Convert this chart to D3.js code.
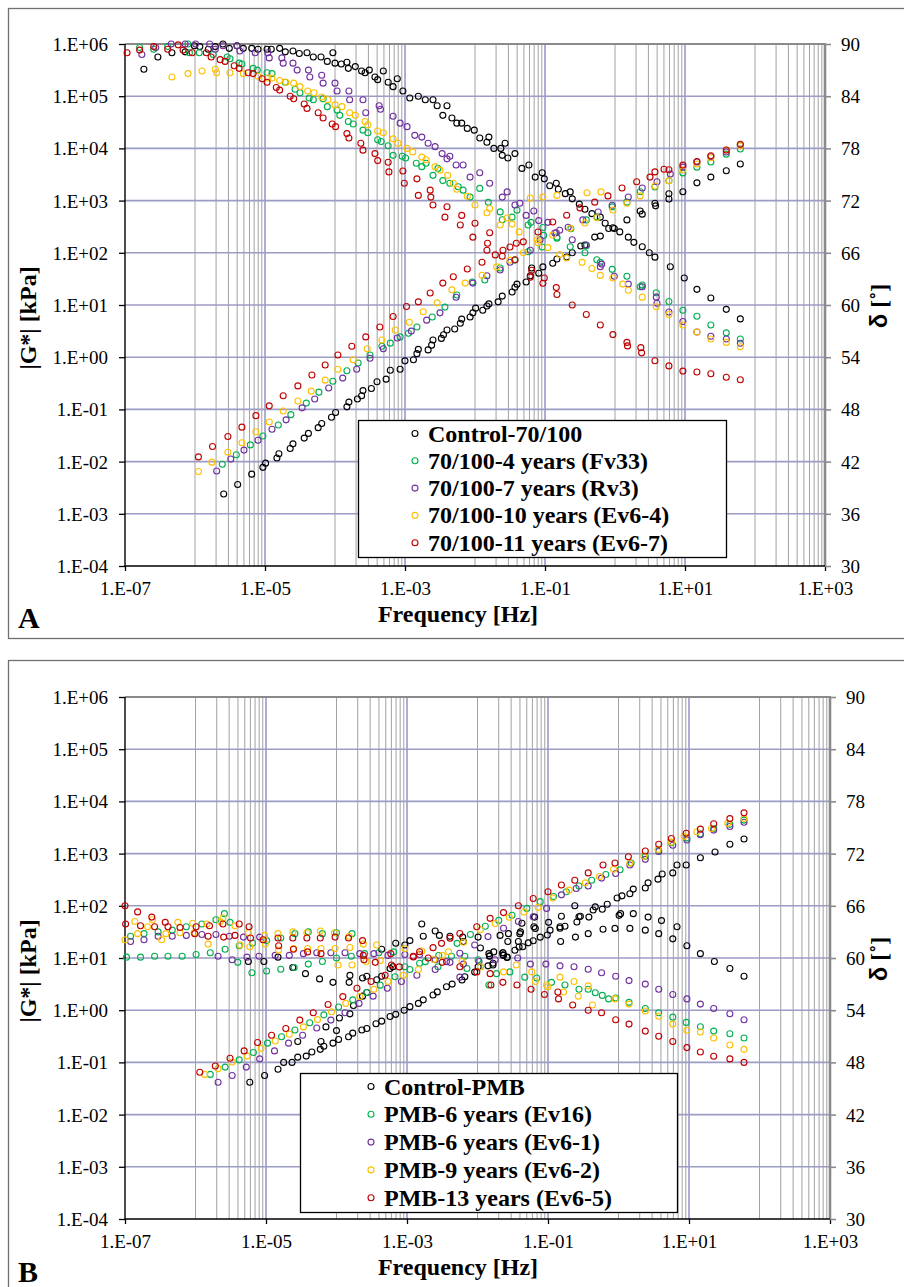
<!DOCTYPE html>
<html><head><meta charset="utf-8">
<script src="https://cdn.jsdelivr.net/npm/d3@7"></script>
<style>body{margin:0;background:#fff}svg{display:block}</style>
</head><body>
<svg id="c" width="904" height="1287"></svg>
<script>
// ---------------- tick labels ----------------
const xTickValues = [1e-7, 1e-5, 1e-3, 1e-1, 1e1, 1e3];
const xTickLabels = ["1.E-07","1.E-05","1.E-03","1.E-01","1.E+01","1.E+03"];
const yTickValues = [1e-4,1e-3,1e-2,1e-1,1,1e1,1e2,1e3,1e4,1e5,1e6];
const yTickLabels = ["1.E-04","1.E-03","1.E-02","1.E-01","1.E+00","1.E+01","1.E+02","1.E+03","1.E+04","1.E+05","1.E+06"];
const dTickValues = [30,36,42,48,54,60,66,72,78,84,90];
const dTickLabels = ["30","36","42","48","54","60","66","72","78","84","90"];

const namesA = ["Control-70/100","70/100-4 years (Fv33)","70/100-7 years (Rv3)","70/100-10 years (Ev6-4)","70/100-11 years (Ev6-7)"];
const namesB = ["Control-PMB","PMB-6 years (Ev16)","PMB-6 years (Ev6-1)","PMB-9 years (Ev6-2)","PMB-13 years (Ev6-5)"];
const colors = ["#000000","#00b050","#7030a0","#ffc000","#c00000"];

// ---------------- panel A data: [frequency Hz, value] ----------------
const A_ctrl_G = [[2.57e-6,2.4e-3],[4.07e-6,3.63e-3],[6.46e-6,5.75e-3],[9.33e-6,7.76e-3],[1.02e-5,9.33e-3],[1.48e-5,1.17e-2],[1.58e-5,1.41e-2],[2.29e-5,1.78e-2],[2.51e-5,2.19e-2],[3.63e-5,2.82e-2],[4.17e-5,3.47e-2],[5.75e-5,4.47e-2],[6.46e-5,5.37e-2],[8.91e-5,7.08e-2],[1.02e-4,8.71e-2],[1.48e-4,0.112],[1.58e-4,0.138],[2.09e-4,0.158],[2.4e-4,0.182],[2.51e-4,0.229],[3.31e-4,0.251],[3.98e-4,0.339],[5.37e-4,0.38],[6.17e-4,0.562],[8.51e-4,0.589],[1e-3,0.851],[1.32e-3,0.891],[1.48e-3,1.17],[1.55e-3,1.41],[2.14e-3,1.38],[2.4e-3,1.7],[2.51e-3,2.14],[3.31e-3,2.29],[3.55e-3,2.69],[3.98e-3,3.31],[5.13e-3,3.47],[6.17e-3,4.47],[6.46e-3,5.37],[8.51e-3,5.89],[9.33e-3,7.08],[1.02e-2,8.71],[1.29e-2,7.94],[1.48e-2,9.55],[1.58e-2,10.5],[2.14e-2,11.5],[2.45e-2,14.8],[3.39e-2,17.8],[3.72e-2,21.9],[3.98e-2,25.1],[5.37e-2,27.5],[6.17e-2,36.3],[6.46e-2,51.3],[8.13e-2,40.7],[9.33e-2,53.7],[0.129,63.1],[0.148,75.9],[0.204,83.2],[0.245,100],[0.324,135],[0.372,141],[0.513,200],[0.617,209],[0.933,302],[1.48,427],[2.29,631],[2.45,550],[3.72,891],[3.8,794],[5.89,1350],[5.89,1070],[9.33,1480],[14.8,2190],[23.4,2820],[38.9,3720],[61.7,5010]];
const A_ctrl_d = [[1.86e-7,87.1],[2.95e-7,88.5],[4.68e-7,89.0],[7.24e-7,89.1],[9.8e-7,89.8],[1.17e-6,89.7],[1.55e-6,89.4],[1.95e-6,89.7],[2.51e-6,90],[3.09e-6,89.5],[3.98e-6,89.8],[4.9e-6,89.5],[6.46e-6,89.5],[7.94e-6,89.4],[1.07e-5,89.4],[1.23e-5,89.4],[1.62e-5,89.5],[1.95e-5,89.1],[2.51e-5,89.2],[3.09e-5,88.9],[3.98e-5,89.0],[4.9e-5,88.5],[6.31e-5,88.5],[7.76e-5,88.0],[9.33e-5,89.0],[1e-4,87.8],[1.23e-4,87.7],[1.48e-4,87.9],[1.55e-4,87.2],[1.95e-4,87.4],[2.4e-4,86.9],[2.69e-4,86.7],[3.09e-4,87.0],[3.72e-4,86.2],[4.07e-4,85.9],[4.9e-4,86.9],[5.75e-4,85.6],[6.76e-4,85.1],[7.76e-4,86.0],[9.33e-4,84.6],[1.17e-3,83.8],[1.55e-3,84.0],[1.95e-3,83.6],[2.51e-3,83.6],[2.88e-3,82.9],[3.47e-3,81.8],[3.98e-3,82.9],[4.68e-3,81.5],[5.5e-3,80.9],[6.46e-3,80.9],[7.76e-3,80.3],[9.77e-3,80.1],[1.17e-2,79.2],[1.48e-2,78.7],[1.58e-2,79.3],[1.86e-2,78.0],[2.34e-2,78.0],[2.45e-2,77.2],[2.69e-2,78.6],[2.95e-2,76.9],[3.72e-2,77.4],[4.68e-2,75.7],[5.89e-2,76.1],[7.24e-2,74.7],[9.12e-2,75.2],[9.77e-2,74.5],[0.117,73.7],[0.145,74.0],[0.155,73.3],[0.195,72.8],[0.229,73.0],[0.245,72.2],[0.309,71.6],[0.372,71.0],[0.468,70.5],[0.617,70.1],[0.724,69.4],[0.813,68.8],[0.977,68.8],[1.17,68.4],[1.55,67.8],[1.86,67.2],[2.45,66.7],[3.09,66.0],[3.72,65.5],[6.17,64.4],[9.77,63.1],[14.8,61.8],[23.4,60.8],[38.9,59.5],[61.7,58.4]];

const A_g4_G = [[2.45e-6,8.91e-3],[3.89e-6,1.35e-2],[6.17e-6,2.09e-2],[9.33e-6,3.09e-2],[1.55e-5,5.01e-2],[2.34e-5,7.94e-2],[3.89e-5,0.132],[5.89e-5,0.214],[9.33e-5,0.347],[1.48e-4,0.55],[2.14e-4,0.776],[3.16e-4,1.1],[4.68e-4,1.62],[6.17e-4,1.86],[8.51e-4,2.45],[1.12e-3,2.88],[1.48e-3,3.8],[2.45e-3,5.89],[3.72e-3,9.12],[5.5e-3,15.5],[9.12e-3,27.5],[1.38e-2,30.2],[2.29e-2,51.3],[3.72e-2,72.4],[5.75e-2,105],[9.12e-2,129],[0.148,191],[0.234,288],[0.389,427],[0.55,490],[0.912,759],[1.48,933],[2.29,1480],[3.72,1820],[5.89,2400],[9.33,3390],[14.8,4370],[23.4,5500],[38.9,7760],[61.7,9770]];
const A_g4_d = [[1.62e-7,89.6],[2.57e-7,89.4],[4.07e-7,89.7],[7.94e-7,90],[8.32e-7,89.0],[1.15e-6,89.0],[1.82e-6,88.8],[2.88e-6,88.5],[3.16e-6,88.3],[4.27e-6,87.8],[4.68e-6,87.7],[6.76e-6,87.2],[7.76e-6,87.0],[1.07e-5,86.7],[1.26e-5,86.6],[1.95e-5,85.6],[2.69e-5,84.8],[3.16e-5,84.4],[4.27e-5,83.8],[4.9e-5,83.6],[6.76e-5,83.7],[7.76e-5,82.8],[1.07e-4,82.4],[1.17e-4,81.8],[1.55e-4,81.1],[1.82e-4,80.8],[2.51e-4,80.1],[2.95e-4,79.8],[4.07e-4,79.0],[4.57e-4,78.8],[5.75e-4,78.3],[6.76e-4,77.2],[9.12e-4,77.1],[1.02e-3,76.9],[1.45e-3,76.3],[1.74e-3,75.9],[2e-3,76.3],[2.51e-3,74.9],[2.95e-3,75.7],[3.47e-3,74.3],[4.37e-3,74.0],[5.75e-3,73.6],[6.76e-3,73.2],[8.51e-3,72.4],[1.17e-2,73.4],[1.55e-2,71.8],[2.29e-2,70.7],[2.45e-2,69.8],[3.39e-2,70.1],[3.98e-2,70.9],[5.75e-2,69.2],[6.31e-2,69.5],[9.33e-2,68.9],[9.55e-2,68.0],[0.148,67.8],[0.229,66.7],[0.372,66.0],[0.389,66.8],[0.55,65.2],[0.617,64.9],[0.912,64.1],[1.48,63.3],[2.29,62.1],[2.45,62.3],[3.89,61.4],[5.89,60.4],[9.33,59.4],[14.8,58.7],[23.4,57.7],[38.9,56.8],[61.7,56.1]];

const A_p7_G = [[2.04e-6,6.61e-3],[3.24e-6,1.12e-2],[5.01e-6,1.66e-2],[7.94e-6,2.57e-2],[1.26e-5,4.17e-2],[2e-5,6.31e-2],[3.39e-5,0.107],[5.13e-5,0.158],[8.13e-5,0.257],[1.29e-4,0.398],[2.04e-4,0.589],[3.16e-4,0.955],[4.9e-4,1.45],[7.76e-4,2.34],[1.23e-3,3.16],[2.04e-3,5.13],[3.16e-3,7.08],[5.37e-3,14.1],[9.33e-3,26.3],[1.48e-2,36.3],[2.29e-2,46.8],[3.16e-2,66.1],[6.17e-2,112],[8.51e-2,178],[0.138,240],[0.214,309],[0.347,427],[0.575,603],[0.912,813],[1.55,1170],[2.45,1740],[3.98,2290],[6.17,3240],[9.33,4370],[14.8,5500],[23.4,6920],[38.9,8510],[61.7,11500]];
const A_p7_d = [[1.74e-7,88.8],[2.75e-7,89.6],[4.57e-7,90],[7.24e-7,90],[1.02e-6,90],[1.62e-6,90],[1.95e-6,89.4],[2.51e-6,89.8],[3.98e-6,89.8],[4.37e-6,89.2],[7.24e-6,89.0],[1.1e-5,89.0],[1.15e-5,88.4],[1.74e-5,88.4],[1.82e-5,87.8],[2.51e-5,87.8],[2.88e-5,87.0],[4.17e-5,87.0],[4.37e-5,86.2],[6.46e-5,86.4],[6.76e-5,85.5],[1e-4,85.5],[1.07e-4,84.6],[1.58e-4,84.6],[1.62e-4,83.6],[2.51e-4,83.6],[2.75e-4,82.1],[4.27e-4,82.9],[4.47e-4,82.5],[6.76e-4,81.7],[8.51e-4,80.9],[1.07e-3,80.5],[1.38e-3,79.5],[1.74e-3,79.3],[2.14e-3,78.6],[2.69e-3,78.2],[3.39e-3,77.4],[3.98e-3,76.8],[4.37e-3,77.1],[5.37e-3,76.1],[6.76e-3,76.1],[8.51e-3,74.7],[1.17e-2,75.2],[1.62e-2,74.0],[2.45e-2,72.4],[2.88e-2,73.0],[3.72e-2,71.5],[4.37e-2,71.7],[5.37e-2,70.3],[6.92e-2,70.8],[8.13e-2,69.7],[0.11,69.5],[0.145,68.3],[0.162,68.6],[0.245,67.5],[0.389,66.9],[0.617,64.4],[0.646,64.7],[0.977,63.3],[1.55,62.4],[2.45,62.1],[3.89,60.9],[3.98,60.2],[5.89,59.2],[9.33,58.1],[14.8,56.9],[23.4,56.4],[38.9,56.1],[61.7,55.6]];

const A_y10_G = [[1.12e-6,6.46e-3],[1.74e-6,9.77e-3],[2.95e-6,1.51e-2],[4.68e-6,2.29e-2],[7.41e-6,3.72e-2],[1.15e-5,5.75e-2],[1.82e-5,9.33e-2],[2.95e-5,0.145],[4.57e-5,0.224],[7.24e-5,0.363],[1.1e-4,0.589],[1.82e-4,0.891],[2.88e-4,1.45],[4.68e-4,2.14],[7.24e-4,3.31],[1.15e-3,4.68],[1.82e-3,7.41],[2.88e-3,11],[4.68e-3,19.5],[7.24e-3,26.3],[1.26e-2,37.2],[2.04e-2,53.7],[3.16e-2,72.4],[4.9e-2,100],[7.94e-2,155],[0.129,219],[0.229,295],[0.372,372],[0.55,468],[0.933,661],[1.48,891],[2.29,1230],[3.72,1910],[5.89,2400],[9.33,3890],[14.8,5010],[23.4,6610],[38.9,9330],[61.7,11200]];
const A_y10_d = [[4.68e-7,86.2],[7.94e-7,86.6],[1.26e-6,86.9],[1.95e-6,87.1],[2.04e-6,86.7],[3.16e-6,86.7],[4.9e-6,86.6],[7.94e-6,86.3],[1.1e-5,86.1],[1.26e-5,86.1],[1.62e-5,85.8],[2e-5,85.6],[2.57e-5,85.5],[3.16e-5,85.1],[4.07e-5,84.6],[5.01e-5,84.4],[6.46e-5,83.9],[7.94e-5,83.6],[1e-4,83.0],[1.26e-4,82.8],[1.62e-4,82.1],[1.95e-4,81.8],[2.69e-4,81.1],[2.95e-4,80.7],[4.07e-4,80.0],[4.9e-4,79.8],[6.76e-4,79.1],[7.94e-4,78.6],[1.07e-3,78.0],[1.29e-3,77.6],[1.74e-3,77.0],[2e-3,76.7],[2.69e-3,75.9],[3.16e-3,75.5],[4.07e-3,74.9],[4.9e-3,74.0],[5.5e-3,73.3],[7.76e-3,72.5],[1e-2,71.5],[1.48e-2,70.6],[1.62e-2,71.1],[2.29e-2,69.2],[2.88e-2,70.0],[3.39e-2,69.3],[4.27e-2,68.4],[6.17e-2,72.3],[7.76e-2,67.5],[9.33e-2,72.4],[0.11,66.6],[0.148,72.6],[0.162,65.8],[0.204,65.4],[0.339,64.9],[0.398,72.9],[0.468,64.2],[0.617,63.4],[0.631,73.0],[0.933,63.1],[1.29,62.4],[1.55,61.7],[2.45,60.9],[3.89,59.8],[5.89,58.9],[9.33,57.7],[14.8,56.9],[23.4,56.1],[38.9,55.7],[61.7,55.2]];

const A_r11_G = [[1.12e-6,1.23e-2],[1.78e-6,1.95e-2],[2.95e-6,3.02e-2],[4.68e-6,4.57e-2],[7.41e-6,7.59e-2],[1.15e-5,0.117],[1.82e-5,0.182],[2.95e-5,0.282],[4.68e-5,0.457],[7.24e-5,0.708],[1.1e-4,1.1],[1.74e-4,1.62],[2.75e-4,2.45],[4.37e-4,3.8],[6.76e-4,6.03],[1.05e-3,9.33],[1.55e-3,11.5],[2.29e-3,17],[3.47e-3,26.3],[4.9e-3,34.7],[7.76e-3,49],[1.26e-2,66.1],[1.95e-2,91.2],[3.16e-2,129],[4.9e-2,162],[7.94e-2,251],[0.129,389],[0.204,525],[0.316,724],[0.513,933],[0.794,1230],[1.26,1740],[2.04,2290],[3.16,2820],[3.72,3550],[5.01,3980],[5.89,3890],[9.33,4790],[14.8,5620],[23.4,7240],[38.9,9330],[61.7,12000]];
const A_r11_d = [[1.07e-7,89.0],[1.62e-7,89.3],[2.57e-7,89.7],[4.07e-7,89.4],[5.75e-7,89.9],[6.76e-7,89.3],[9.12e-7,89.0],[1.45e-6,89.0],[1.7e-6,88.5],[2.29e-6,88.2],[2.69e-6,88.0],[3.63e-6,87.5],[4.27e-6,87.2],[5.75e-6,86.7],[6.76e-6,86.6],[9.12e-6,86.0],[1.07e-5,85.6],[1.45e-5,85.0],[1.62e-5,84.7],[2.29e-5,84.0],[2.57e-5,83.7],[3.63e-5,83.1],[3.98e-5,82.6],[5.75e-5,82.1],[6.76e-5,81.5],[9.12e-5,80.8],[1.02e-4,80.5],[1.48e-4,79.7],[1.58e-4,79.2],[2.34e-4,78.6],[2.51e-4,77.8],[3.72e-4,77.4],[4.07e-4,76.6],[5.75e-4,76.4],[5.89e-4,75.3],[9.33e-4,75.4],[9.77e-4,74.0],[1.48e-3,74.5],[1.55e-3,72.6],[2.29e-3,73.2],[2.34e-3,72.4],[2.51e-3,71.5],[3.72e-3,70.1],[3.98e-3,71.3],[6.17e-3,69.2],[6.46e-3,70.3],[9.33e-3,67.8],[1e-2,69.4],[1.48e-2,66.3],[1.51e-2,67.1],[1.62e-2,68.3],[2.45e-2,65.6],[2.51e-2,66.3],[3.72e-2,65.2],[3.89e-2,67.1],[6.17e-2,63.2],[6.46e-2,64.0],[9.33e-2,62.5],[9.77e-2,63.1],[0.145,62.0],[0.148,61.2],[0.245,60.0],[0.389,58.9],[0.617,57.7],[0.933,56.6],[1.48,55.7],[1.51,55.3],[2.34,55.1],[2.4,54.5],[3.72,53.6],[5.89,53.0],[9.33,52.4],[14.8,52.3],[23.4,52.1],[38.9,51.7],[61.7,51.4]];

// ---------------- panel B data ----------------
const B_ctrl_G = [[5.89e-6,4.17e-2],[9.55e-6,5.62e-2],[1.48e-5,7.41e-2],[1.78e-5,0.1],[2.34e-5,0.1],[2.82e-5,0.126],[3.72e-5,0.132],[4.47e-5,0.158],[5.89e-5,0.178],[6.61e-5,0.204],[8.91e-5,0.234],[1.07e-4,0.275],[1.48e-4,0.309],[1.7e-4,0.363],[2.29e-4,0.417],[2.69e-4,0.447],[3.63e-4,0.55],[4.37e-4,0.617],[5.75e-4,0.759],[6.92e-4,0.832],[9.12e-4,1.0],[1.1e-3,1.17],[1.45e-3,1.35],[1.7e-3,1.58],[2.34e-3,1.95],[2.69e-3,2.24],[3.63e-3,2.82],[4.37e-3,3.16],[6.03e-3,3.8],[6.61e-3,4.37],[9.12e-3,5.37],[1.02e-2,6.76],[1.41e-2,7.08],[1.66e-2,7.94],[2.29e-2,11.5],[3.39e-2,14.1],[3.89e-2,16.2],[5.25e-2,19.5],[6.17e-2,21.4],[7.76e-2,25.1],[9.77e-2,27.5],[0.148,37.2],[0.174,40.7],[0.257,49],[0.275,61.7],[0.437,83.2],[0.468,95.5],[0.692,107],[0.955,141],[1.12,155],[1.45,170],[1.62,209],[2.4,219],[2.63,275],[3.63,324],[4.17,407],[5.89,427],[6.76,603],[9.12,603],[14.5,832],[23.4,1070],[38,1510],[60.3,1910],[2.82e-5,0.251],[6.03e-5,0.251],[7.08e-5,0.479],[1e-4,0.407],[1.1e-4,0.708],[1.55e-4,0.851],[1.74e-4,1.23],[2.34e-4,1.86],[2.69e-4,2.19],[1.1e-2,15.5],[1.48e-2,11],[2.29e-2,12.6],[2.63e-2,10.2]];
const B_ctrl_d = [[5.62e-6,59.6],[9.33e-6,59.6],[1.48e-5,60.1],[2.4e-5,58.9],[3.63e-5,58.2],[5.75e-5,57.6],[8.91e-5,57.2],[1.51e-4,57.2],[1.55e-4,58.0],[2.34e-4,57.7],[2.69e-4,57.9],[3.72e-4,57.5],[4.37e-4,57.9],[5.75e-4,58.8],[4.37e-4,61.0],[6.31e-4,59.0],[6.92e-4,61.7],[9.33e-4,61.5],[1.1e-3,62.0],[1.62e-3,63.9],[1.7e-3,62.5],[2.51e-3,63.1],[2.88e-3,62.6],[4.07e-3,62.5],[6.17e-3,62.4],[6.31e-3,61.9],[1.02e-2,62.4],[1.48e-2,60.2],[1.66e-2,59.2],[1.45e-2,60.5],[1.7e-2,60.7],[2.09e-2,62.6],[2.29e-2,60.6],[2.34e-2,60.3],[2.63e-2,60.1],[2.69e-2,61.9],[2.75e-2,62.8],[3.8e-2,61.9],[3.98e-2,62.8],[4.07e-2,63.0],[4.27e-2,64.0],[4.37e-2,61.3],[6.31e-2,63.6],[6.46e-2,64.7],[6.61e-2,63.4],[0.102,64.1],[0.107,63.2],[0.148,63.6],[0.151,61.9],[0.155,64.8],[0.24,66.0],[0.245,62.4],[0.288,64.8],[0.372,62.8],[0.38,64.7],[0.589,65.6],[0.603,63.3],[0.891,63.4],[1.02,64.9],[1.07,65.1],[1.45,63.4],[1.62,65.1],[2.4,63.2],[2.63,64.7],[3.72,62.8],[4.07,64.3],[5.89,62.2],[6.76,63.6],[9.33,61.4],[14.5,60.5],[22.9,59.6],[38,58.8],[60.3,57.9]];

const B_g6_G = [[1.62e-6,5.89e-2],[2.63e-6,8.13e-2],[4.17e-6,0.112],[6.61e-6,0.155],[1.05e-5,0.234],[1.66e-5,0.309],[2.57e-5,0.417],[4.17e-5,0.575],[6.61e-5,0.813],[1.07e-4,1.15],[1.7e-4,1.58],[2.69e-4,2.19],[4.17e-4,3.02],[6.76e-4,4.37],[1.1e-3,6.03],[1.82e-3,8.51],[2.82e-3,11.2],[5.13e-3,19.1],[7.94e-3,28.2],[1.29e-2,40.7],[2e-2,52.5],[3.09e-2,66.1],[5.01e-2,89.1],[7.76e-2,120],[0.12,151],[0.182,186],[0.275,240],[0.417,309],[0.661,398],[1.05,490],[1.51,661],[2.4,891],[3.72,1150],[5.62,1620],[9.33,2000],[14.5,2400],[22.4,3020],[38,3630],[60.3,4370]];
const B_g6_d = [[1.05e-7,60.1],[1.66e-7,60.1],[2.63e-7,60.2],[4.07e-7,60.2],[6.46e-7,60.2],[1.02e-6,60.4],[1.62e-6,60.6],[2.63e-6,61.0],[4.17e-6,61.4],[6.46e-6,61.7],[1.02e-5,62.0],[1.62e-5,62.3],[2.57e-5,62.8],[3.98e-5,63.0],[6.31e-5,62.8],[1e-4,62.9],[1.66e-4,62.8],[1.2e-7,62.5],[1.86e-7,62.8],[2.95e-7,63.0],[4.68e-7,63.2],[7.41e-7,63.6],[1.23e-6,63.9],[1.95e-6,64.4],[2.57e-6,65.1],[3.09e-6,64.1],[3.98e-6,59.5],[6.31e-6,58.3],[1.02e-5,58.5],[1.62e-5,58.7],[2.51e-5,58.9],[3.98e-5,59.3],[6.31e-5,59.6],[1e-4,60.0],[1.62e-4,60.2],[2.51e-4,60.5],[3.98e-4,60.6],[6.46e-4,60.7],[9.33e-4,59.0],[1.51e-3,59.4],[2.75e-3,59.0],[4.27e-3,60.2],[6.61e-3,60.2],[7.08e-3,58.8],[1.02e-2,59.8],[1.1e-2,59.0],[1.45e-2,56.9],[1.86e-2,58.2],[2.88e-2,58.4],[4.68e-2,57.8],[6.92e-2,57.7],[0.112,57.2],[0.174,56.9],[0.275,56.4],[0.372,56.4],[0.468,56.0],[0.589,55.7],[0.724,55.3],[0.912,55.4],[1.41,54.9],[2.4,54.2],[3.72,53.7],[5.89,53.2],[9.12,52.6],[14.5,52.1],[22.4,51.6],[38,51.3],[60.3,50.8]];

const B_p6_G = [[2.09e-6,4.17e-2],[3.31e-6,5.62e-2],[5.25e-6,8.13e-2],[8.13e-6,0.117],[1.32e-5,0.166],[2.09e-5,0.234],[3.31e-5,0.331],[5.25e-5,0.457],[8.32e-5,0.646],[1.32e-4,0.891],[2.09e-4,1.35],[3.31e-4,1.86],[5.25e-4,2.63],[8.32e-4,3.55],[1.38e-3,4.68],[2.51e-3,6.03],[3.63e-3,8.51],[5.62e-3,12.3],[9.12e-3,17.8],[1.41e-2,25.7],[2.34e-2,37.2],[3.8e-2,50.1],[6.17e-2,61.7],[9.55e-2,89.1],[0.155,162],[0.251,214],[0.372,240],[0.575,339],[0.912,417],[1.45,603],[2.4,776],[3.72,1100],[5.89,1450],[9.33,1820],[14.5,2290],[22.4,2820],[38,3310],[60.3,3980]];
const B_p6_d = [[1.2e-7,61.9],[1.86e-7,62.1],[2.95e-7,62.5],[4.68e-7,62.5],[7.41e-7,62.6],[1.23e-6,62.7],[1.95e-6,62.7],[3.02e-6,62.5],[4.79e-6,62.4],[8.13e-6,62.4],[2.09e-6,60.2],[3.31e-6,59.8],[5.37e-6,60.1],[7.94e-6,60.2],[1.35e-5,60.3],[2.14e-5,60.3],[3.39e-5,60.5],[5.25e-5,60.6],[8.32e-5,60.6],[1.32e-4,60.6],[2.14e-4,60.5],[3.39e-4,60.5],[5.37e-4,60.3],[9.33e-4,60.4],[1.51e-3,60.4],[2.51e-3,59.8],[4.07e-3,59.5],[5.62e-3,57.8],[6.31e-3,59.3],[1.05e-2,59.6],[1.78e-2,59.8],[3.72e-2,60.0],[5.62e-2,59.3],[9.33e-2,59.3],[0.148,59.1],[0.234,59.0],[0.372,58.7],[0.575,58.3],[0.912,57.9],[1.41,57.4],[2.4,57.0],[3.72,56.4],[5.89,55.8],[9.33,55.3],[14.5,54.7],[22.4,54.2],[38,53.6],[60.3,52.9]];

const B_y9_G = [[1.35e-6,5.89e-2],[2.09e-6,7.59e-2],[3.31e-6,0.102],[5.37e-6,0.132],[8.51e-6,0.186],[1.35e-5,0.257],[2.14e-5,0.347],[3.39e-5,0.479],[5.37e-5,0.661],[8.51e-5,0.933],[1.35e-4,1.35],[2.14e-4,1.82],[3.39e-4,2.51],[5.37e-4,3.55],[8.91e-4,4.68],[1.45e-3,6.03],[2.4e-3,9.33],[3.89e-3,13.2],[6.31e-3,20],[1.1e-2,34.7],[1.78e-2,45.7],[2.82e-2,60.3],[4.57e-2,75.9],[7.24e-2,93.3],[0.117,141],[0.2,200],[0.339,275],[0.537,363],[0.851,501],[1.45,661],[2.29,891],[3.63,1200],[5.62,1660],[8.51,2140],[12.9,2630],[20.9,3020],[35.5,3800],[60.3,4680]];
const B_y9_d = [[1e-7,62.1],[1.38e-7,64.2],[1.51e-7,62.8],[2.09e-7,63.6],[2.45e-7,64.4],[3.31e-7,62.1],[3.8e-7,62.8],[5.62e-7,64.1],[6.03e-7,62.9],[9.12e-7,64.0],[9.55e-7,62.9],[1.45e-6,63.9],[1.51e-6,61.6],[2.24e-6,64.2],[2.45e-6,64.6],[3.63e-6,63.7],[4.27e-6,61.5],[5.62e-6,62.9],[5.89e-6,61.3],[9.55e-6,62.6],[9.77e-6,61.6],[1.48e-5,62.8],[1.51e-5,60.9],[2.4e-5,63.0],[2.45e-5,61.1],[3.8e-5,62.9],[3.89e-5,61.1],[5.89e-5,63.1],[6.03e-5,61.1],[9.33e-5,62.9],[9.55e-5,61.1],[1.05e-4,59.2],[1.51e-4,62.5],[1.55e-4,61.2],[1.66e-4,59.2],[2.4e-4,61.6],[2.63e-4,59.6],[3.72e-4,61.5],[4.17e-4,59.7],[9.33e-4,61.1],[1.62e-3,60.8],[3.16e-3,60.3],[6.03e-3,59.6],[1.1e-2,59.0],[2.34e-2,58.4],[3.55e-2,59.2],[5.89e-2,58.4],[6.61e-2,57.3],[9.55e-2,56.9],[0.1,56.7],[0.148,57.8],[0.166,56.1],[0.234,57.3],[0.269,55.6],[0.372,56.8],[0.427,54.6],[0.891,55.3],[1.41,54.7],[2.4,53.9],[3.72,53.3],[5.89,52.4],[9.33,51.7],[14.5,51.5],[22.4,50.8],[38,50.0],[60.3,49.5]];

const B_r13_G = [[1.15e-6,6.46e-2],[1.91e-6,8.51e-2],[3.09e-6,0.12],[4.9e-6,0.166],[7.59e-6,0.24],[1.2e-5,0.331],[1.91e-5,0.447],[3.02e-5,0.646],[4.68e-5,0.891],[7.59e-5,1.29],[1.23e-4,1.82],[1.95e-4,2.63],[3.09e-4,3.55],[4.9e-4,4.68],[7.76e-4,6.76],[1.23e-3,10.5],[1.51e-3,13.2],[2.34e-3,15.8],[3.09e-3,19.1],[4.07e-3,24],[5.62e-3,29.5],[9.77e-3,39.8],[1.51e-2,57.5],[2.34e-2,74.1],[3.8e-2,100],[6.17e-2,138],[0.1,186],[0.155,251],[0.24,309],[0.372,427],[0.603,603],[0.891,661],[1.38,871],[2.4,1120],[3.72,1510],[5.62,1950],[9.12,2450],[14.5,2950],[22.4,3720],[38,4680],[60.3,6030]];
const B_r13_d = [[1e-7,66.0],[1.02e-7,63.9],[1.51e-7,65.3],[1.66e-7,63.7],[2.4e-7,64.7],[2.63e-7,63.6],[3.72e-7,64.1],[4.07e-7,63.6],[6.03e-7,63.5],[9.77e-7,62.8],[1.02e-6,63.6],[1.51e-6,62.5],[1.58e-6,63.7],[2.45e-6,63.9],[2.51e-6,62.4],[3.63e-6,62.6],[4.17e-6,63.9],[5.75e-6,63.6],[6.03e-6,62.3],[9.12e-6,62.1],[1.48e-5,62.3],[1.51e-5,61.4],[2.4e-5,62.3],[2.45e-5,61.0],[3.8e-5,62.3],[3.89e-5,60.7],[5.89e-5,62.3],[6.03e-5,60.5],[9.55e-5,62.4],[1.48e-4,62.3],[2.34e-4,62.0],[2.4e-4,60.3],[2.45e-4,59.8],[3.55e-4,59.5],[5.89e-4,60.5],[6.03e-4,59.2],[1.23e-3,60.2],[2e-3,60.0],[3.16e-3,59.5],[5.62e-3,59.0],[9.77e-3,58.4],[1.51e-2,58.2],[1.55e-2,56.9],[2.29e-2,57.2],[3.63e-2,56.9],[5.75e-2,56.4],[8.91e-2,55.8],[0.138,56.1],[0.141,55.3],[0.224,54.6],[0.372,54.0],[0.575,53.7],[0.912,52.9],[1.41,52.4],[2.4,51.6],[3.72,51.0],[5.89,50.4],[9.33,49.7],[14.5,49.2],[22.4,48.7],[38,48.4],[60.3,48.0]];

// ---------------- drawing ----------------
const W = 904;
const SERIF = '"Liberation Serif","Times New Roman",serif';
const svg = d3.select("#c");

function panel(p) {
  const x = d3.scaleLog().domain([1e-7, 1e3]).range([p.left, p.right]);
  const y = d3.scaleLog().domain([1e-4, 1e6]).range([p.bottom, p.top]);
  const yd = d3.scaleLinear().domain([30, 90]).range([p.bottom, p.top]);
  const g = svg.append("g");

  g.append("rect").attr("x", 8.5).attr("y", p.frameTop + 0.5).attr("width", W).attr("height", p.frameH)
    .attr("fill", "#fff").attr("stroke", "#707070").attr("stroke-width", 1.3);

  // vertical minor grid (Excel base-100 style)
  const minor = [];
  [-6, -4, -2, 0, 2].forEach(e => { for (let k = 1; k <= 9; k++) minor.push(k * Math.pow(10, e)); });
  g.selectAll(null).data(minor).enter().append("line")
    .attr("x1", d => x(d)).attr("x2", d => x(d)).attr("y1", p.top).attr("y2", p.bottom)
    .attr("stroke", "#a2a2a2").attr("stroke-width", 1);
  g.selectAll(null).data([1e-5, 1e-3, 1e-1, 1e1]).enter().append("line")
    .attr("x1", d => x(d)).attr("x2", d => x(d)).attr("y1", p.top).attr("y2", p.bottom)
    .attr("stroke", "#5a5aaa").attr("stroke-width", 1);
  // horizontal grid
  g.selectAll(null).data(yTickValues.slice(1, -1)).enter().append("line")
    .attr("x1", p.left).attr("x2", p.right).attr("y1", d => y(d)).attr("y2", d => y(d))
    .attr("stroke", "#9c9cc4").attr("stroke-width", 1.6);

  // plot borders
  g.append("line").attr("x1", p.left).attr("x2", p.right + 1).attr("y1", p.top).attr("y2", p.top)
    .attr("stroke", "#8a8a8a").attr("stroke-width", 2.2);
  g.append("line").attr("x1", p.right).attr("x2", p.right).attr("y1", p.top).attr("y2", p.bottom)
    .attr("stroke", "#8a8a8a").attr("stroke-width", 2.6);

  // axes
  const ax = g.append("g").attr("transform", `translate(0,${p.bottom})`)
    .call(d3.axisBottom(x).tickValues(xTickValues).tickFormat((d, i) => xTickLabels[i]).tickSizeOuter(0).tickSize(5).tickPadding(11));
  const ay = g.append("g").attr("transform", `translate(${p.left},0)`)
    .call(d3.axisLeft(y).tickValues(yTickValues).tickFormat((d, i) => yTickLabels[i]).tickSizeOuter(0).tickSize(6).tickPadding(11));
  const ar = g.append("g").attr("transform", `translate(${p.right},0)`)
    .call(d3.axisRight(yd).tickValues(dTickValues).tickFormat((d, i) => dTickLabels[i]).tickSizeOuter(0).tickSize(6).tickPadding(10));
  [ax, ay, ar].forEach(a => {
    a.select(".domain").remove();
    a.selectAll("text").attr("font-family", SERIF).attr("font-size", 19).attr("fill", "#000");
  });
  ax.selectAll("line").attr("stroke", "#000").attr("stroke-width", 1.3);
  ay.selectAll("line").attr("stroke", "#000").attr("stroke-width", 1.3);
  ar.selectAll("line").attr("stroke", "#8a8a8a").attr("stroke-width", 1.6);
  ay.selectAll("text").attr("dy", "0.34em");
  ar.selectAll("text").attr("dy", "0.34em");

  g.append("line").attr("x1", p.left).attr("x2", p.left).attr("y1", p.top).attr("y2", p.bottom)
    .attr("stroke", "#000").attr("stroke-width", 1.4);
  g.append("line").attr("x1", p.left).attr("x2", p.right).attr("y1", p.bottom).attr("y2", p.bottom)
    .attr("stroke", "#000").attr("stroke-width", 1.4);

  // data points
  p.series.forEach((s, i) => {
    g.selectAll(null).data(s.G).enter().append("circle")
      .attr("cx", d => x(d[0])).attr("cy", d => y(d[1])).attr("r", 3)
      .attr("fill", "none").attr("stroke", colors[i]).attr("stroke-width", 1.1);
    g.selectAll(null).data(s.d).enter().append("circle")
      .attr("cx", d => x(d[0])).attr("cy", d => yd(d[1])).attr("r", 3)
      .attr("fill", "none").attr("stroke", colors[i]).attr("stroke-width", 1.1);
  });

  // titles
  g.append("text").attr("x", 458).attr("y", p.xTitleY).attr("text-anchor", "middle")
    .attr("font-family", SERIF).attr("font-weight", "bold").attr("font-size", 24).text("Frequency [Hz]");
  g.append("text").attr("transform", `translate(36,${p.midY + 13}) rotate(-90)`).attr("text-anchor", "middle")
    .attr("font-family", SERIF).attr("font-weight", "bold").attr("font-size", 24).text("|G*| [kPa]");
  const dl = g.append("text").attr("transform", `translate(887,${p.midY + 1}) rotate(-90)`).attr("text-anchor", "middle")
    .attr("font-family", SERIF).attr("font-weight", "bold").attr("font-size", 24);
  dl.append("tspan").attr("font-family", '"Liberation Sans",Arial,sans-serif').text("δ");
  dl.append("tspan").text(" [˚]");
  g.append("text").attr("x", 18).attr("y", p.letterY).attr("font-family", SERIF).attr("font-weight", "bold")
    .attr("font-size", 30).text(p.letter);

  // legend
  const L = p.legend;
  g.append("rect").attr("x", L.x).attr("y", L.y).attr("width", L.w).attr("height", L.h)
    .attr("fill", "#fff").attr("stroke", "#000").attr("stroke-width", 1.3);
  p.names.forEach((n, i) => {
    const cy = L.y + L.first + i * L.step;
    g.append("circle").attr("cx", L.mx).attr("cy", cy).attr("r", 3).attr("fill", "none")
      .attr("stroke", colors[i]).attr("stroke-width", 1.1);
    g.append("text").attr("x", L.mx + 13).attr("y", cy + 8).attr("font-family", SERIF)
      .attr("font-weight", "bold").attr("font-size", 24).text(n);
  });
}

panel({
  frameTop: 8, frameH: 630, left: 125, right: 825, top: 44, bottom: 566, midY: 305,
  xTitleY: 622, letter: "A", letterY: 628, names: namesA,
  legend: { x: 358.5, y: 420.5, w: 368, h: 137, mx: 415, first: 13, step: 27.3 },
  series: [
    { G: A_ctrl_G, d: A_ctrl_d }, { G: A_g4_G, d: A_g4_d }, { G: A_p7_G, d: A_p7_d },
    { G: A_y10_G, d: A_y10_d }, { G: A_r11_G, d: A_r11_d }
  ]
});
panel({
  frameTop: 660, frameH: 700, left: 125, right: 830, top: 697, bottom: 1219, midY: 958,
  xTitleY: 1275, letter: "B", letterY: 1282, names: namesB,
  legend: { x: 300.5, y: 1073.5, w: 377, h: 139, mx: 371, first: 13, step: 27.8 },
  series: [
    { G: B_ctrl_G, d: B_ctrl_d }, { G: B_g6_G, d: B_g6_d }, { G: B_p6_G, d: B_p6_d },
    { G: B_y9_G, d: B_y9_d }, { G: B_r13_G, d: B_r13_d }
  ]
});
</script>
</body></html>
